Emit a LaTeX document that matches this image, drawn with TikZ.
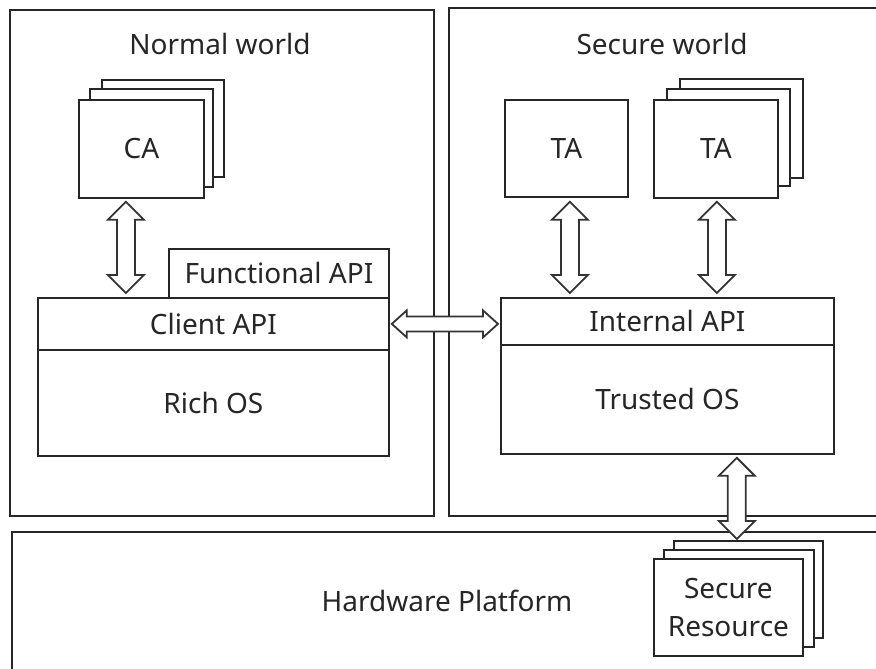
\documentclass[tikz,border=0pt]{standalone}
\usepackage{fontspec}
\setmainfont{Noto Sans}
\usetikzlibrary{calc}
\tikzset{
  frame/.style={draw=black!85, line width=1.8pt, fill=white, inner sep=0pt, anchor=north west},
  lbl/.style={font=\fontsize{28}{32}\selectfont, text=black!85, align=center},
  darr/.style={draw=black!80, line width=1.8pt, fill=white, line join=miter},
}
\newcommand\vdarrow[2]{\draw[darr] (#1) -- ($(#1)+(18,18)$) -- ($(#1)+(9,18)$) -- ($(#2)+(9,-18)$) -- ($(#2)+(18,-18)$) -- (#2) -- ($(#2)+(-18,-18)$) -- ($(#2)+(-9,-18)$) -- ($(#1)+(-9,18)$) -- ($(#1)+(-18,18)$) -- cycle;}
\newcommand\hdarrow[2]{\draw[darr] (#1) -- ($(#1)+(15,-13.5)$) -- ($(#1)+(15,-7.5)$) -- ($(#2)+(-15,-7.5)$) -- ($(#2)+(-15,-13.5)$) -- (#2) -- ($(#2)+(-15,13.5)$) -- ($(#2)+(-15,7.5)$) -- ($(#1)+(15,7.5)$) -- ($(#1)+(15,13.5)$) -- cycle;}
\begin{document}
\begin{tikzpicture}[x=1pt,y=-1pt]
\useasboundingbox (0,0) rectangle (876,669);
\clip (0,0) rectangle (876,669);
\fill[white] (0,0) rectangle (876,669);
% worlds
\node[frame, minimum width=424, minimum height=506] (nw) at (9,9) {};
\node[frame, minimum width=442, minimum height=508] (sw) at (448,7) {};
\node[frame, minimum width=879, minimum height=150] (hw) at (11,531) {};
\node[lbl] (nwt) at (220,44) {Normal world};
\node[lbl] (swt) at (662,44) {Secure world};
\node[lbl] (hwt) at (447,601) {Hardware Platform};
% CA stack
\node[frame, minimum width=122, minimum height=97] (ca3) at (101,79) {};
\node[frame, minimum width=123, minimum height=98] (ca2) at (89,88) {};
\node[frame, minimum width=125, minimum height=98] (ca) at (78,99) {};
\node[lbl] at (ca.center) {CA};
% normal world OS
\node[frame, minimum width=220, minimum height=49] (fapi) at (168,248) {};
\node[lbl] at (fapi.center) {Functional API};
\node[frame, minimum width=351, minimum height=52] (capi) at (37,297) {};
\node[lbl] at (capi.center) {Client API};
\node[frame, minimum width=351, minimum height=106] (ros) at (37,349) {};
\node[lbl] at (ros.center) {Rich OS};
% TAs
\node[frame, minimum width=123, minimum height=97] (ta1) at (504,99) {};
\node[lbl] at (ta1.center) {TA};
\node[frame, minimum width=123, minimum height=99] (ta23) at (679,78) {};
\node[frame, minimum width=123, minimum height=97] (ta22) at (666,88) {};
\node[frame, minimum width=124, minimum height=98] (ta2) at (653,99) {};
\node[lbl] at (ta2.center) {TA};
% secure OS
\node[frame, minimum width=333, minimum height=47] (iapi) at (500,297) {};
\node[lbl] at (iapi.center) {Internal API};
\node[frame, minimum width=333, minimum height=109] (tos) at (500,344) {};
\node[lbl] at (tos.center) {Trusted OS};
% arrows
\coordinate (a1t) at ($(ca.south)+(-15.5,3)$);
\coordinate (a1b) at ($(a1t|-capi.north)+(0,-4)$);
\vdarrow{a1t}{a1b}
\coordinate (a2t) at ($(ta1.south)+(3.5,4)$);
\coordinate (a2b) at ($(a2t|-iapi.north)+(0,-4)$);
\vdarrow{a2t}{a2b}
\coordinate (a3t) at ($(ta2.south)+(1,3)$);
\coordinate (a3b) at ($(a3t|-iapi.north)+(0,-4)$);
\vdarrow{a3t}{a3b}
\coordinate (hl) at ($(capi.east)+(2,0)$);
\coordinate (hr) at ($(hl-|iapi.west)+(-2,0)$);
\hdarrow{hl}{hr}
% secure resource
\coordinate (a4t) at ($(tos.south east)+(-98,3)$);
\node[frame, minimum width=149, minimum height=97] (sr3) at (673,540) {};
\node[frame, minimum width=150, minimum height=97] (sr2) at (663,549) {};
\node[frame, minimum width=149, minimum height=97] (sr) at (653,558) {};
\node[lbl, font=\fontsize{28}{38}\selectfont] at (sr.center) {Secure\\Resource};
\coordinate (a4b) at ($(a4t|-sr3.north)+(0,-1)$);
\vdarrow{a4t}{a4b}
\end{tikzpicture}
\end{document}
